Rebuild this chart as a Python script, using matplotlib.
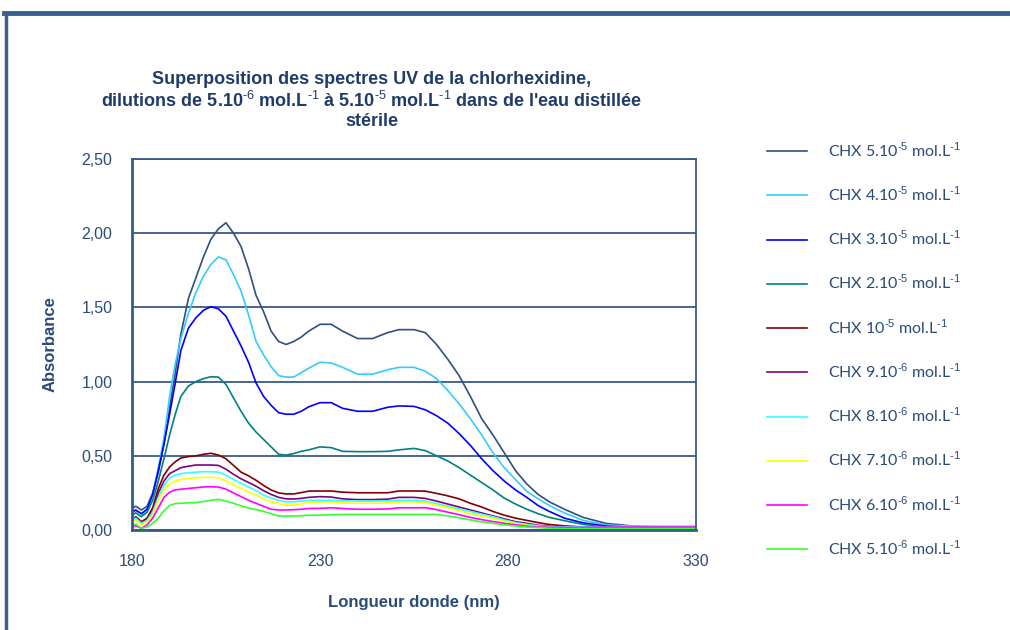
import numpy as np
import matplotlib
matplotlib.use("Agg")
import matplotlib.pyplot as plt
from matplotlib.lines import Line2D

plt.rcParams['font.family'] = ['Liberation Sans', 'DejaVu Sans']
plt.rcParams['mathtext.fontset'] = 'custom'
plt.rcParams['mathtext.rm'] = 'Liberation Sans'
plt.rcParams['mathtext.bf'] = 'Liberation Sans:bold'

# longueurs d'onde (nm)
wl = [180, 181, 182.5, 184, 185.5, 187, 188.5, 190, 191.5, 193, 195, 197, 199, 201, 203, 205,
      207, 209, 211, 213, 215, 217, 219, 221, 223, 225, 227, 230, 233, 236, 240, 244, 248, 251,
      255, 258, 261, 264, 267, 270, 273, 276, 279, 282, 285, 288, 291, 295, 300, 306, 313, 320, 330]

chx_5e5 = [0.146, 0.16, 0.135, 0.16, 0.25, 0.39, 0.58, 0.82, 1.06, 1.32, 1.56, 1.70, 1.84, 1.96, 2.03, 2.07,
           2.00, 1.91, 1.76, 1.58, 1.47, 1.34, 1.27, 1.25, 1.27, 1.30, 1.34, 1.386, 1.386, 1.34, 1.29, 1.29, 1.33, 1.35,
           1.35, 1.33, 1.25, 1.15, 1.04, 0.90, 0.75, 0.64, 0.52, 0.40, 0.31, 0.24, 0.19, 0.14, 0.085, 0.045, 0.027, 0.022, 0.02]
chx_4e5 = [0.115, 0.13, 0.105, 0.14, 0.24, 0.42, 0.62, 0.90, 1.12, 1.29, 1.46, 1.60, 1.71, 1.79, 1.84, 1.82,
           1.72, 1.61, 1.45, 1.27, 1.18, 1.10, 1.04, 1.03, 1.03, 1.06, 1.09, 1.13, 1.125, 1.096, 1.05, 1.05, 1.08, 1.096,
           1.096, 1.07, 1.02, 0.94, 0.85, 0.75, 0.64, 0.52, 0.42, 0.34, 0.26, 0.21, 0.165, 0.115, 0.065, 0.035, 0.025, 0.025, 0.025]
chx_3e5 = [0.123, 0.135, 0.11, 0.14, 0.24, 0.40, 0.58, 0.78, 0.99, 1.21, 1.36, 1.43, 1.48, 1.505, 1.49, 1.44,
           1.34, 1.24, 1.13, 0.99, 0.90, 0.84, 0.79, 0.78, 0.78, 0.80, 0.83, 0.858, 0.858, 0.82, 0.80, 0.80, 0.827, 0.836,
           0.833, 0.81, 0.77, 0.72, 0.65, 0.57, 0.48, 0.40, 0.33, 0.27, 0.22, 0.165, 0.125, 0.08, 0.048, 0.027, 0.018, 0.015, 0.015]
chx_2e5 = [0.10, 0.115, 0.09, 0.12, 0.20, 0.33, 0.48, 0.64, 0.78, 0.90, 0.97, 1.00, 1.02, 1.033, 1.03, 0.98,
           0.89, 0.80, 0.72, 0.66, 0.61, 0.56, 0.51, 0.505, 0.515, 0.53, 0.54, 0.56, 0.555, 0.53, 0.528, 0.528, 0.53, 0.54,
           0.55, 0.535, 0.50, 0.465, 0.42, 0.37, 0.32, 0.27, 0.215, 0.175, 0.14, 0.11, 0.085, 0.063, 0.038, 0.02, 0.012, 0.01, 0.01]
chx_1e5 = [0.067, 0.09, 0.056, 0.08, 0.15, 0.28, 0.37, 0.425, 0.46, 0.485, 0.495, 0.50, 0.51, 0.517, 0.505, 0.48,
           0.435, 0.39, 0.365, 0.335, 0.30, 0.27, 0.25, 0.243, 0.243, 0.252, 0.262, 0.263, 0.263, 0.255, 0.251, 0.251, 0.251, 0.263,
           0.263, 0.262, 0.247, 0.23, 0.21, 0.18, 0.155, 0.125, 0.10, 0.08, 0.065, 0.05, 0.037, 0.028, 0.02, 0.012, 0.01, 0.01, 0.01]
chx_9e6 = [0.075, 0.085, 0.05, 0.07, 0.13, 0.25, 0.33, 0.38, 0.40, 0.42, 0.43, 0.438, 0.438, 0.438, 0.435, 0.41,
           0.375, 0.345, 0.32, 0.295, 0.265, 0.24, 0.22, 0.21, 0.209, 0.213, 0.22, 0.225, 0.222, 0.21, 0.205, 0.205, 0.208, 0.22,
           0.22, 0.213, 0.195, 0.175, 0.155, 0.135, 0.115, 0.095, 0.075, 0.056, 0.045, 0.032, 0.025, 0.018, 0.013, 0.01, 0.01, 0.01, 0.01]
chx_8e6 = [0.07, 0.08, 0.045, 0.065, 0.12, 0.22, 0.30, 0.35, 0.37, 0.38, 0.386, 0.39, 0.393, 0.393, 0.39, 0.37,
           0.34, 0.315, 0.29, 0.265, 0.235, 0.215, 0.20, 0.19, 0.19, 0.195, 0.20, 0.20, 0.20, 0.197, 0.195, 0.195, 0.197, 0.20,
           0.20, 0.195, 0.178, 0.16, 0.142, 0.125, 0.107, 0.09, 0.068, 0.05, 0.038, 0.028, 0.022, 0.022, 0.022, 0.022, 0.024, 0.025, 0.025]
chx_7e6 = [0.06, 0.07, 0.035, 0.055, 0.10, 0.20, 0.27, 0.31, 0.33, 0.34, 0.348, 0.352, 0.355, 0.355, 0.352, 0.33,
           0.305, 0.28, 0.255, 0.235, 0.21, 0.19, 0.178, 0.168, 0.168, 0.176, 0.185, 0.19, 0.19, 0.182, 0.18, 0.18, 0.182, 0.19,
           0.19, 0.185, 0.168, 0.15, 0.13, 0.11, 0.095, 0.078, 0.06, 0.044, 0.032, 0.022, 0.016, 0.012, 0.01, 0.01, 0.01, 0.01, 0.01]
chx_6e6 = [0.02, 0.03, 0.01, 0.035, 0.08, 0.15, 0.22, 0.255, 0.27, 0.275, 0.28, 0.285, 0.29, 0.292, 0.29, 0.275,
           0.25, 0.225, 0.20, 0.18, 0.16, 0.14, 0.135, 0.135, 0.137, 0.14, 0.145, 0.146, 0.15, 0.145, 0.14, 0.14, 0.142, 0.15,
           0.15, 0.15, 0.138, 0.12, 0.103, 0.085, 0.07, 0.057, 0.045, 0.035, 0.026, 0.02, 0.018, 0.018, 0.018, 0.02, 0.02, 0.02, 0.02]
chx_5e6 = [0.027, 0.04, 0.011, 0.02, 0.045, 0.08, 0.13, 0.165, 0.178, 0.18, 0.183, 0.185, 0.192, 0.20, 0.207, 0.195,
           0.18, 0.163, 0.148, 0.137, 0.125, 0.11, 0.094, 0.094, 0.094, 0.096, 0.10, 0.10, 0.103, 0.105, 0.105, 0.105, 0.105, 0.105,
           0.105, 0.105, 0.105, 0.095, 0.083, 0.068, 0.055, 0.045, 0.035, 0.027, 0.02, 0.016, 0.012, 0.01, 0.01, 0.01, 0.01, 0.01, 0.01]

series = [chx_5e5, chx_4e5, chx_3e5, chx_2e5, chx_1e5, chx_9e6, chx_8e6, chx_7e6, chx_6e6, chx_5e6]
labels = [r"CHX 5.10$^{\text{-5}}$ mol.L$^{\text{-1}}$", r"CHX 4.10$^{\text{-5}}$ mol.L$^{\text{-1}}$",
          r"CHX 3.10$^{\text{-5}}$ mol.L$^{\text{-1}}$", r"CHX 2.10$^{\text{-5}}$ mol.L$^{\text{-1}}$",
          r"CHX 10$^{\text{-5}}$ mol.L$^{\text{-1}}$", r"CHX 9.10$^{\text{-6}}$ mol.L$^{\text{-1}}$",
          r"CHX 8.10$^{\text{-6}}$ mol.L$^{\text{-1}}$", r"CHX 7.10$^{\text{-6}}$ mol.L$^{\text{-1}}$",
          r"CHX 6.10$^{\text{-6}}$ mol.L$^{\text{-1}}$", r"CHX 5.10$^{\text{-6}}$ mol.L$^{\text{-1}}$"]
colors = ["#2F4F7F", "#33CCFF", "#0000FF", "#008080", "#800000",
          "#800080", "#33FFFF", "#FFFF00", "#FF00FF", "#33FF33"]

navy = "#37598A"
text_col = "#2B4A78"

fig = plt.figure(figsize=(10.1, 6.3), dpi=100)
ax = fig.add_axes([0.1307, 0.1587, 0.5584, 0.589])

for y, lab, c in zip(series, labels, colors):
    ax.plot(wl, y, color=c, lw=1.2, label=lab)

ax.set_xlim(180, 330)
ax.set_ylim(0, 2.5)
ax.set_xticks([180, 230, 280, 330])
ax.set_yticks(np.arange(0, 2.51, 0.5))
ax.set_yticklabels([f"{v:.2f}".replace('.', ',') for v in np.arange(0, 2.51, 0.5)])
ax.tick_params(length=0, labelsize=11.5, labelcolor=text_col)
ax.tick_params(axis='x', pad=17)
ax.tick_params(axis='y', pad=14)
ax.yaxis.grid(True, color=navy, lw=1.3)
ax.set_axisbelow(True)
for s in ax.spines.values():
    s.set_color(navy)
    s.set_linewidth(1.3)
ax.spines['left'].set_linewidth(2)
ax.spines['bottom'].set_linewidth(2)

ax.set_xlabel("Longueur donde (nm)", fontsize=12, fontweight='bold', color=text_col, labelpad=19)
ax.set_ylabel("Absorbance", fontsize=12, fontweight='bold', color=text_col, labelpad=17)

fig.text(0.368, 0.84,
         "Superposition des spectres UV de la chlorhexidine,\n"
         r"dilutions de 5.10$^{\text{-6}}$ mol.L$^{\text{-1}}$ à 5.10$^{\text{-5}}$ mol.L$^{\text{-1}}$ dans de l'eau distillée"
         "\nstérile",
         ha='center', va='center', fontsize=13, fontweight='bold', color="#1F3B6B", linespacing=1.17)

leg = ax.legend(loc='upper left', bbox_to_anchor=(0.745, 0.799), bbox_transform=fig.transFigure,
                frameon=False, handlelength=2.5, handletextpad=1.3, labelspacing=1.6,
                prop={'family': 'Lato', 'size': 11.5})
for t in leg.get_texts():
    t.set_color(text_col)

# cadre extérieur
fig.add_artist(Line2D([0.004, 1.0], [0.979, 0.979], transform=fig.transFigure, color="#3B5F8E", lw=3.5))
fig.add_artist(Line2D([0.006, 0.006], [0.0, 0.979], transform=fig.transFigure, color="#3B5F8E", lw=2.5))

fig.savefig("out.png", dpi=100)
